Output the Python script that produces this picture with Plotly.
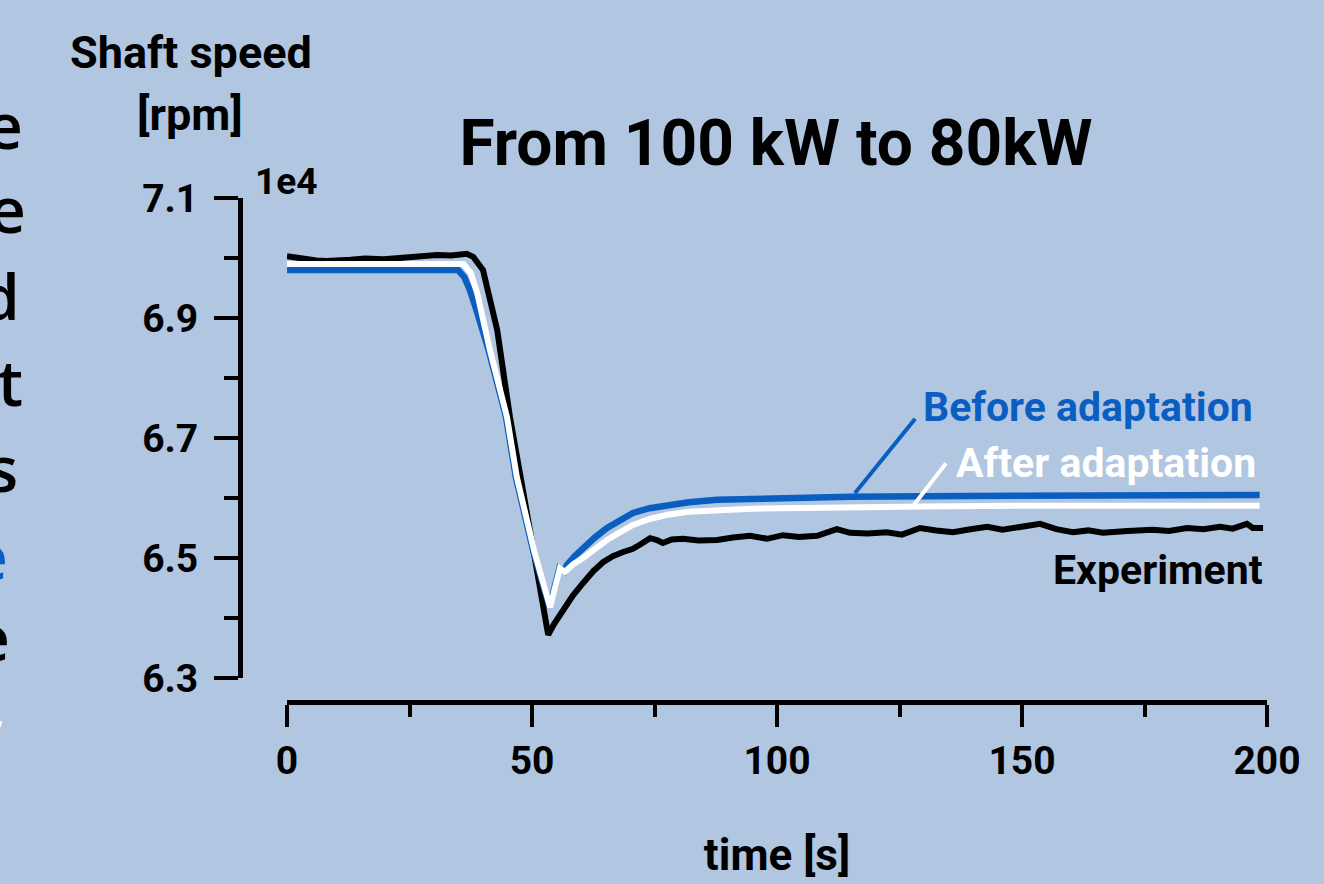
import plotly.graph_objects as go

# ---------------- data (speed in units of 1e4 rpm) ----------------
time_exp = [0, 3.3, 6, 8.1, 10.5, 12.9, 16, 19.7, 23, 26.5, 30.6, 33.5, 36.7, 38.0, 40.0,
            42.9, 45.5, 48, 50.5, 53.3, 54.5, 56.3, 58.3, 60.4, 62.5, 64.5, 66.5, 68.6,
            70.5, 72.0, 74.1, 75.5, 76.7, 78.5, 80.8, 84, 87.8, 91, 94.5, 98.0, 101.2,
            104.5, 108.2, 112.2, 114.9, 118.5, 122.4, 125.5, 129.2, 132.5, 135.9, 139.5,
            142.9, 146, 149.6, 153.7, 157, 160.4, 163.5, 166.5, 171.5, 176.7, 180, 183.7,
            187, 190.4, 193, 195.9, 197.1, 199.2]
speed_exp = [7.003, 6.998, 6.996, 6.995, 6.997, 6.997, 6.999, 6.998, 7.000, 7.002, 7.005,
             7.004, 7.007, 7.002, 6.980, 6.880, 6.735, 6.620, 6.505, 6.372, 6.390, 6.413,
             6.437, 6.458, 6.478, 6.493, 6.503, 6.510, 6.515, 6.522, 6.533, 6.530, 6.525,
             6.531, 6.532, 6.529, 6.530, 6.534, 6.537, 6.532, 6.538, 6.535, 6.537, 6.548,
             6.542, 6.541, 6.543, 6.539, 6.550, 6.546, 6.543, 6.548, 6.552, 6.547, 6.552,
             6.557, 6.548, 6.543, 6.546, 6.542, 6.545, 6.547, 6.545, 6.550, 6.548, 6.552,
             6.549, 6.557, 6.550, 6.550]

time_after = [0, 36.0, 37.5, 38.8, 41.4, 44.9, 46.9, 48.0, 50.5, 53.7, 55.7, 56.7, 58.5,
              60.4, 62.8, 65.3, 68, 70.6, 74, 77.6, 82, 87.8, 95, 101.2, 114.9, 130, 150,
              175, 198.5]
speed_after = [6.990, 6.990, 6.975, 6.942, 6.847, 6.735, 6.635, 6.597, 6.510, 6.418, 6.483,
               6.477, 6.490, 6.500, 6.516, 6.530, 6.543, 6.555, 6.565, 6.572, 6.577, 6.580,
               6.582, 6.583, 6.585, 6.586, 6.587, 6.587, 6.587]

time_before = [0, 34.9, 36.2, 37.3, 38.6, 41.2, 44.7, 46.7, 47.8, 50.3, 53.6, 55.6, 56.6,
               57.1, 58.7, 60.4, 62.8, 65.3, 68, 70.6, 74, 77.6, 82, 87.8, 95, 115, 130,
               150, 175, 198.5]
speed_before = [6.980, 6.980, 6.968, 6.947, 6.915, 6.845, 6.735, 6.635, 6.597, 6.510, 6.418,
                6.483, 6.478, 6.488, 6.503, 6.517, 6.534, 6.550, 6.564, 6.575, 6.583, 6.588,
                6.593, 6.597, 6.599, 6.602, 6.603, 6.604, 6.605, 6.605]

x_ticks = [0, 50, 100, 150, 200]
x_minor = [25, 75, 125, 175]
y_ticks = [6.3, 6.5, 6.7, 6.9, 7.1]
y_minor = [6.4, 6.6, 6.8, 7.0]

# ---------------- style ----------------
BG = "#b1c6e0"
BLUE = "#0a5ec2"
W, H = 1324, 884
ML, MR, MT, MB = 240, 57, 198, 182
PW, PH = W - ML - MR, H - MT - MB


def px2x(px):
    return (px - ML) / PW


def py2y(py):
    return (H - MB - py) / PH


fig = go.Figure()
fig.add_trace(go.Scatter(x=time_exp, y=speed_exp, mode="lines", name="Experiment",
                         line=dict(color="black", width=6)))
fig.add_trace(go.Scatter(x=time_before, y=speed_before, mode="lines", name="Before adaptation",
                         line=dict(color=BLUE, width=6.5)))
fig.add_trace(go.Scatter(x=time_after, y=speed_after, mode="lines", name="After adaptation",
                         line=dict(color="white", width=6)))

tick_font = dict(family="Roboto, sans-serif", size=39, color="black", weight="bold")

fig.update_layout(
    width=W, height=H,
    margin=dict(l=ML, r=MR, t=MT, b=MB, autoexpand=False),
    paper_bgcolor=BG, plot_bgcolor=BG,
    showlegend=False,
    title=dict(text="From 100 kW to 80kW", x=px2x(776), xref="paper", xanchor="center",
               y=1 - 143 / H, yref="container", yanchor="middle",
               font=dict(family="Roboto, sans-serif", size=64, color="black", weight="bold")),
    xaxis=dict(domain=[px2x(287), 1], range=[0, 200], anchor="free", position=0,
               showline=True, linewidth=5, linecolor="black", showgrid=False, zeroline=False,
               ticks="outside", ticklen=22, tickwidth=4, tickcolor="black",
               tickmode="array", tickvals=x_ticks, tickfont=tick_font,
               minor=dict(tickmode="array", tickvals=x_minor, ticks="outside", ticklen=12,
                          tickwidth=4, tickcolor="black", showgrid=False),
               title=dict(text="time [s]", standoff=56,
                          font=dict(family="Roboto, sans-serif", size=44, color="black",
                                    weight="bold")),
               automargin=False),
    yaxis=dict(domain=[py2y(678), 1], range=[6.3, 7.1], anchor="free", position=0,
               showline=True, linewidth=5, linecolor="black", showgrid=False, zeroline=False,
               ticks="outside", ticklen=24, tickwidth=4, tickcolor="black",
               tickmode="array", tickvals=y_ticks, tickformat=".1f", tickfont=tick_font,
               ticklabelstandoff=8,
               minor=dict(tickmode="array", tickvals=y_minor, ticks="outside", ticklen=14,
                          tickwidth=4, tickcolor="black", showgrid=False),
               automargin=False),
)

# leader lines
fig.add_shape(type="line", xref="x", yref="y", x0=115.9, y0=6.608, x1=128.2, y1=6.732,
              line=dict(color=BLUE, width=4))
fig.add_shape(type="line", xref="x", yref="y", x0=127.8, y0=6.587, x1=134.5, y1=6.658,
              line=dict(color="white", width=4))

lab_font = dict(family="Roboto, sans-serif", size=41, weight="bold")
fig.add_annotation(x=197.6, y=6.752, xref="x", yref="y", text="Before adaptation",
                   showarrow=False, xanchor="right", yanchor="middle",
                   font=dict(lab_font, color=BLUE))
fig.add_annotation(x=198.2, y=6.658, xref="x", yref="y", text="After adaptation",
                   showarrow=False, xanchor="right", yanchor="middle",
                   font=dict(lab_font, color="white"))
fig.add_annotation(x=199.6, y=6.48, xref="x", yref="y", text="Experiment",
                   showarrow=False, xanchor="right", yanchor="middle",
                   font=dict(lab_font, color="black"))

# axis label / multiplier
head_font = dict(family="Roboto, sans-serif", size=45, color="black", weight="bold")
fig.add_annotation(x=px2x(191), y=py2y(53), xref="paper", yref="paper", text="Shaft speed",
                   showarrow=False, xanchor="center", yanchor="middle", font=head_font)
fig.add_annotation(x=px2x(190), y=py2y(115), xref="paper", yref="paper", text="[rpm]",
                   showarrow=False, xanchor="center", yanchor="middle", font=head_font)
fig.add_annotation(x=px2x(253), y=py2y(182), xref="paper", yref="paper", text="1e4",
                   showarrow=False, xanchor="left", yanchor="middle",
                   font=dict(family="Roboto, sans-serif", size=37, color="black", weight="bold"))

# cropped slide text on the left edge
frag_font = dict(family="Open Sans, sans-serif", size=64, weight=600)
fragments = [("e", 25, 124, "black", 64), ("e", 28, 208, "black", 64),
             ("d", 22, 295, "black", 64), ("nt", 25, 381, "black", 64),
             ("s", 20, 467, "black", 64), ("e", 10, 555, BLUE, 64),
             ("e", 12, 636, "black", 64), (",", 7, 709, "white", 44)]
for txt, rx, cy, col, sz in fragments:
    fig.add_annotation(x=px2x(rx), y=py2y(cy), xref="paper", yref="paper", text=txt,
                       showarrow=False, xanchor="right", yanchor="middle",
                       font=dict(frag_font, color=col, size=sz))

fig.write_html("out.html", config={"displayModeBar": False},
               post_script="document.body.style.margin='0';document.body.style.overflow='hidden';")
